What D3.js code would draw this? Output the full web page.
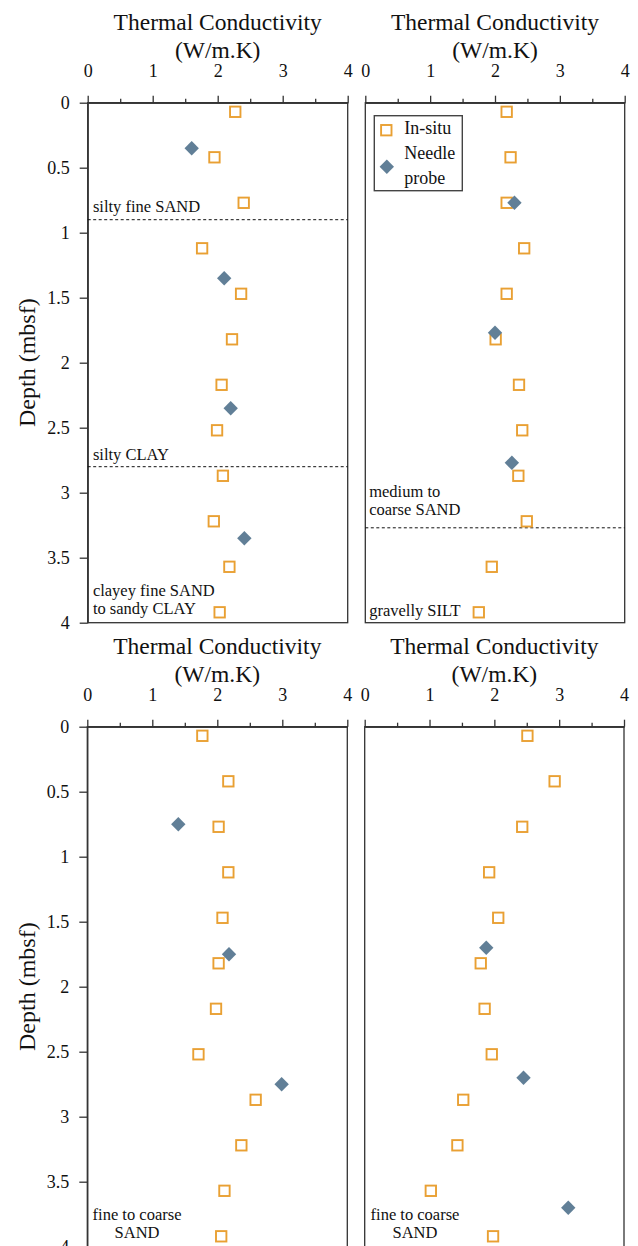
<!DOCTYPE html>
<html>
<head>
<meta charset="utf-8">
<script src="https://cdn.jsdelivr.net/npm/d3@7"></script>
<style>
  html, body { margin:0; padding:0; background:#fff; }
  svg { display:block; font-family:"Liberation Serif","Times New Roman",serif; }
  .axis path, .axis line { stroke:#333; stroke-width:1.3; }
  .axis text { font-size:18px; fill:#111; font-family:"Liberation Serif","Times New Roman",serif; }
</style>
</head>
<body>
<script>
// ====== textes & ticks
const TITLE_LINES = ["Thermal Conductivity", "(W/m.K)"];
const Y_TITLE = "Depth (mbsf)";
const X_TICKS = [0, 1, 2, 3, 4];
const X_MINOR = [0.5, 1.5, 2.5, 3.5];
const Y_TICKS = [0, 0.5, 1, 1.5, 2, 2.5, 3, 3.5, 4];
const LEGEND = ["In-situ", "Needle", "probe"];

// ====== données (profondeur en mbsf, conductivité en W/m.K)
const DEPTH_INSITU = [0.07, 0.42, 0.77, 1.12, 1.47, 1.82, 2.17, 2.52, 2.87, 3.22, 3.57, 3.92];

const TL_INSITU = [2.27, 1.95, 2.40, 1.76, 2.36, 2.22, 2.06, 1.99, 2.08, 1.94, 2.18, 2.03];
const TL_NEEDLE_DEPTH = [0.35, 1.35, 2.35, 3.35];
const TL_NEEDLE = [1.60, 2.10, 2.20, 2.41];
const TL_LAYERS = [0.90, 2.80];
const TL_NOTES = [
  {k:0.08, d:0.84, lines:["silty fine SAND"]},
  {k:0.08, d:2.75, lines:["silty CLAY"]},
  {k:0.08, d:3.795, lines:["clayey fine SAND", "to sandy CLAY"]}
];

const TR_INSITU = [2.18, 2.24, 2.18, 2.45, 2.18, 2.01, 2.37, 2.42, 2.36, 2.49, 1.95, 1.75];
const TR_NEEDLE_DEPTH = [0.77, 1.77, 2.77];
const TR_NEEDLE = [2.30, 2.00, 2.26];
const TR_LAYERS = [3.27];
const TR_NOTES = [
  {k:0.06, d:3.033, lines:["medium to", "coarse SAND"]},
  {k:0.06, d:3.95, lines:["gravelly SILT"]}
];

const BL_INSITU = [1.77, 2.17, 2.02, 2.17, 2.08, 2.02, 1.98, 1.71, 2.59, 2.37, 2.11, 2.06];
const BL_NEEDLE_DEPTH = [0.75, 1.75, 2.75];
const BL_NEEDLE = [1.40, 2.18, 2.99];
const BL_LAYERS = [];
const BL_NOTES = [
  {k:0.765, d:3.795, lines:["fine to coarse", "SAND"], center:true}
];

const BR_INSITU = [2.51, 2.93, 2.43, 1.92, 2.06, 1.79, 1.85, 1.96, 1.52, 1.43, 1.02, 1.98];
const BR_NEEDLE_DEPTH = [1.70, 2.70, 3.70];
const BR_NEEDLE = [1.875, 2.45, 3.14];
const BR_LAYERS = [];
const BR_NOTES = [
  {k:0.776, d:3.795, lines:["fine to coarse", "SAND"], center:true}
];

// ====== mise en page
const W = 638, H = 1246;
const PANEL_H = 520;
const C_INSITU = "#E9A033", C_NEEDLE = "#617F97";

const PANELS = [
  {x0:87.7,  x1:347.7, top:102.7, left:true,  insitu:TL_INSITU, nd:TL_NEEDLE_DEPTH, nv:TL_NEEDLE, layers:TL_LAYERS, notes:TL_NOTES},
  {x0:365.3, x1:624.7, top:102.7, left:false, insitu:TR_INSITU, nd:TR_NEEDLE_DEPTH, nv:TR_NEEDLE, layers:TR_LAYERS, notes:TR_NOTES, legend:true},
  {x0:87.3,  x1:347.3, top:726.7, left:true,  insitu:BL_INSITU, nd:BL_NEEDLE_DEPTH, nv:BL_NEEDLE, layers:BL_LAYERS, notes:BL_NOTES},
  {x0:364.7, x1:624.0, top:726.7, left:false, insitu:BR_INSITU, nd:BR_NEEDLE_DEPTH, nv:BR_NEEDLE, layers:BR_LAYERS, notes:BR_NOTES}
];

const svg = d3.select("body").append("svg")
  .attr("width", W).attr("height", H)
  .attr("viewBox", [0, 0, W, H]);

const square = (g, cx, cy) => g.append("rect")
  .attr("x", cx - 5.2).attr("y", cy - 5.2)
  .attr("width", 10.4).attr("height", 10.4)
  .attr("fill", "none").attr("stroke", C_INSITU).attr("stroke-width", 1.9);

const diamond = (g, cx, cy) => g.append("path")
  .attr("d", `M${cx},${cy-7.2} L${cx+7.2},${cy} L${cx},${cy+7.2} L${cx-7.2},${cy} Z`)
  .attr("fill", C_NEEDLE);

function drawPanel(p){
  const x = d3.scaleLinear().domain([0, 4]).range([p.x0, p.x1]);
  const y = d3.scaleLinear().domain([0, 4]).range([p.top, p.top + PANEL_H]);
  const g = svg.append("g");

  // titre
  TITLE_LINES.forEach((t, i) => {
    g.append("text")
      .attr("x", (p.x0 + p.x1) / 2).attr("y", p.top - 73 + i * 28)
      .attr("text-anchor", "middle").attr("font-size", 23.5).attr("fill", "#111")
      .text(t);
  });

  // cadre
  g.append("rect")
    .attr("x", p.x0).attr("y", p.top)
    .attr("width", p.x1 - p.x0).attr("height", PANEL_H)
    .attr("fill", "none").attr("stroke", "#333").attr("stroke-width", 1.3);

  // axe x (haut)
  g.append("g").attr("class", "axis").attr("transform", `translate(0,${p.top})`)
    .call(d3.axisTop(x).tickValues(X_TICKS).tickSize(7).tickPadding(19).tickSizeOuter(0).tickFormat(d => d));
  g.append("g").attr("class", "axis").attr("transform", `translate(0,${p.top})`)
    .call(d3.axisTop(x).tickValues(X_MINOR).tickSize(4).tickSizeOuter(0).tickFormat(""));

  // axe y
  if (p.left){
    g.append("g").attr("class", "axis").attr("transform", `translate(${p.x0},0)`)
      .call(d3.axisLeft(y).tickValues(Y_TICKS).tickSize(8).tickPadding(10).tickSizeOuter(0).tickFormat(d => d));
    g.append("text")
      .attr("transform", `translate(35,${y(2)}) rotate(-90)`)
      .attr("text-anchor", "middle").attr("font-size", 24).attr("fill", "#111")
      .text(Y_TITLE);
  }

  // limites de couches
  g.selectAll("line.layer").data(p.layers).join("line")
    .attr("class", "layer")
    .attr("x1", p.x0).attr("x2", p.x1)
    .attr("y1", d => y(d)).attr("y2", d => y(d))
    .attr("stroke", "#111").attr("stroke-width", 1).attr("stroke-dasharray", "3,2.5");

  // annotations
  p.notes.forEach(n => {
    n.lines.forEach((t, i) => {
      g.append("text")
        .attr("x", x(n.k)).attr("y", y(n.d) + i * 18)
        .attr("text-anchor", n.center ? "middle" : "start")
        .attr("font-size", 16.5).attr("fill", "#111")
        .text(t);
    });
  });

  // points
  p.insitu.forEach((k, i) => square(g, x(k), y(DEPTH_INSITU[i])));
  p.nv.forEach((k, i) => diamond(g, x(k), y(p.nd[i])));

  // légende
  if (p.legend){
    const lx = p.x0 + 9, ly = p.top + 13;
    g.append("rect").attr("x", lx).attr("y", ly).attr("width", 88).attr("height", 75)
      .attr("fill", "#fff").attr("stroke", "#444").attr("stroke-width", 1.4);
    square(g, lx + 12, ly + 14.5);
    diamond(g, lx + 12.5, ly + 51);
    LEGEND.forEach((t, i) => {
      g.append("text").attr("x", lx + 30).attr("y", ly + 18 + i * 25)
        .attr("font-size", 18).attr("fill", "#111").text(t);
    });
  }
}

PANELS.forEach(drawPanel);
</script>
</body>
</html>
